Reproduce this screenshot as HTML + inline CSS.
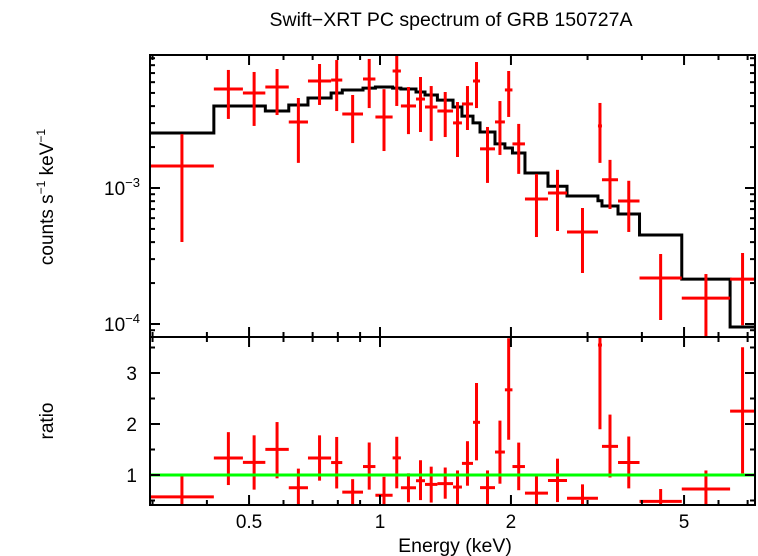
<!DOCTYPE html>
<html><head><meta charset="utf-8"><style>
html,body{margin:0;padding:0;background:#fff;}
svg{display:block;font-family:"Liberation Sans",sans-serif;}
</style></head><body>
<svg id="chart" width="758" height="556" viewBox="0 0 758 556" xmlns="http://www.w3.org/2000/svg">
<text x="451" y="26" font-size="19.5" text-anchor="middle">Swift−XRT PC spectrum of GRB 150727A</text>
<text transform="translate(53,197) rotate(-90)" font-size="19" text-anchor="middle">counts s<tspan font-size="12" dy="-8">−1</tspan><tspan dy="8"> keV</tspan><tspan font-size="12" dy="-8">−1</tspan></text>
<text transform="translate(53,421) rotate(-90)" font-size="19" text-anchor="middle">ratio</text>
<text x="455" y="552" font-size="19.5" text-anchor="middle">Energy (keV)</text>
<g id="plot"></g>
</svg>
<script>
const binEdges=[0.296,0.415,0.484,0.545,0.617,0.683,0.772,0.819,0.914,0.976,1.069,1.117,1.210,1.269,1.355,1.472,1.543,1.636,1.698,1.838,1.937,2.016,2.154,2.433,2.691,3.17,3.238,3.525,3.95,4.94,6.38,7.28];
const fluxVals=[1.45,5.35,5.0,5.53,3.06,6.12,6.22,3.50,6.33,3.33,7.25,4.01,4.51,3.94,3.68,3.01,4.15,6.12,1.94,3.06,5.26,2.11,0.830,0.919,0.475,2.86,1.15,0.802,0.218,0.155,0.214];
const fluxLo=[0.401,3.22,2.86,3.44,1.53,4.08,3.68,2.14,3.87,1.87,4.01,2.49,2.58,2.22,2.37,1.69,2.67,3.87,1.09,1.75,3.33,1.27,0.436,0.483,0.237,1.53,0.701,0.475,0.107,0.070,0.098];
const fluxHi=[2.49,7.38,7.13,7.50,4.59,8.16,8.73,4.83,8.89,5.33,9.5,5.53,6.55,5.62,5.08,4.29,5.62,8.44,2.81,4.36,7.25,2.96,1.27,1.36,0.713,4.22,1.61,1.13,0.327,0.233,0.333];
const modelVals=[2.54,4.01,4.01,3.68,4.08,4.59,5.0,5.26,5.43,5.53,5.43,5.35,5.08,4.83,4.43,3.94,3.38,3.01,2.58,2.11,1.97,1.81,1.29,1.03,0.873,0.806,0.737,0.644,0.451,0.214,0.095];
const xTickLabels=[0.5,1,2,5];
const ratioTicks=[1,2,3];

const L=150,R=755,T=55,M=337,B=505;
const xs=e=>380+435*Math.log10(e);
const yf=v=>188-136*(Math.log10(v*1e-3)+3);
const yr=r=>475-51*(r-1);
const g=document.getElementById('plot');
const NS='http://www.w3.org/2000/svg';
function mk(tag,attrs){const el=document.createElementNS(NS,tag);for(const k in attrs)el.setAttribute(k,attrs[k]);g.appendChild(el);return el;}
function line(x1,y1,x2,y2,st,w){return mk('line',{x1,y1,x2,y2,stroke:st,'stroke-width':w});}

let d='';
for(let i=0;i<modelVals.length;i++){
  const y=yf(modelVals[i]);
  d+=(i===0?'M':'L')+xs(binEdges[i])+','+y+' L'+xs(binEdges[i+1])+','+y+' ';
}
const mp=mk('path',{d:d,fill:'none',stroke:'#000','stroke-width':3});



for(let i=0;i<fluxVals.length;i++){
  const lo=binEdges[i],hi=binEdges[i+1],c=Math.sqrt(lo*hi),cx=xs(c);
  const grp=document.createElementNS(NS,'g');g.appendChild(grp);
  
  
  const y=yf(fluxVals[i]);
  grp.appendChild(line(xs(lo),y,xs(hi),y,'#f00',3));
  grp.appendChild(line(cx,Math.max(T,yf(fluxHi[i])),cx,Math.min(M,yf(fluxLo[i])),'#f00',3));
  const m=modelVals[i];
  const rg=document.createElementNS(NS,'g');g.appendChild(rg);
  
  
  const ry=yr(fluxVals[i]/m);
  rg.appendChild(line(xs(lo),ry,xs(hi),ry,'#f00',3));
  rg.appendChild(line(cx,Math.max(M,yr(fluxHi[i]/m)),cx,Math.min(B,yr(fluxLo[i]/m)),'#f00',3));
}
const ul=line(L,yr(1),R,yr(1),'#00ff00',3);



const f1=mk('rect',{x:L,y:T,width:R-L,height:M-T,fill:'none',stroke:'#000','stroke-width':2});

const f2=mk('rect',{x:L,y:M,width:R-L,height:B-M,fill:'none',stroke:'#000','stroke-width':2});


const minorE=[0.3,0.4,0.5,0.6,0.7,0.8,0.9,1,2,3,4,5,6,7];
minorE.forEach(e=>{
  const x=xs(e),len=(e===1||e===0.5||e===2||e===5)?10:5;
  [[T,1],[M,-1],[M,1],[B,-1]].forEach(([y0,s])=>line(x,y0,x,y0+s*len,'#000',2));
});
xTickLabels.forEach(v=>{
  const t=mk('text',{x:xs(v),y:528,'font-size':19,'text-anchor':'middle'});t.textContent=v;
  
});
for(let dec=-5;dec<=-2;dec++){for(let k=1;k<=9;k++){
  const v=k*Math.pow(10,dec)*1e3; const y=yf(v); if(y<T||y>M)continue;
  const len=k===1?10:5;
  line(L,y,L+len,y,'#000',2);line(R,y,R-len,y,'#000',2);
}}
[[1,'−3'],[0.1,'−4']].forEach(([v,ex])=>{
  const t=mk('text',{x:140,y:yf(v)+7,'font-size':19,'text-anchor':'end'});
  t.innerHTML='10<tspan font-size="13" dy="-8">'+ex+'</tspan>';
  
});
for(let r=0.5;r<=3.5;r+=0.5){const y=yr(r);const len=(r%1===0)?10:5;line(L,y,L+len,y,'#000',2);line(R,y,R-len,y,'#000',2);}
ratioTicks.forEach(r=>{
  const t=mk('text',{x:137,y:yr(r)+7,'font-size':19,'text-anchor':'end'});t.textContent=r;
  
});
</script>
</body></html>
